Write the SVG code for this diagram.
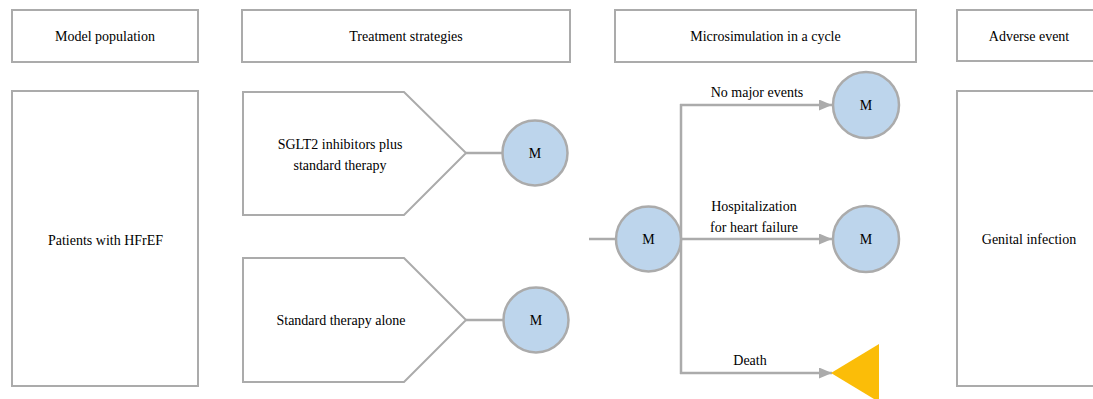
<svg xmlns="http://www.w3.org/2000/svg" width="1093" height="399" viewBox="0 0 1093 399" font-family="'Liberation Serif', 'Times New Roman', Times, serif">
  <defs>
    <style>
      .box { fill: #ffffff; stroke: #ababab; stroke-width: 2; }
      .state { fill: #bdd5ec; stroke: #ababab; stroke-width: 2.5; }
      .conn { fill: none; stroke: #ababab; stroke-width: 2.5; }
      text { font-family: 'Liberation Serif', 'Times New Roman', Times, serif; font-size: 14px; fill: #000000; text-anchor: middle; }
      .dead { fill: #fbbd08; }
    </style>
    <marker id="arr" markerUnits="userSpaceOnUse" markerWidth="14" markerHeight="12" refX="13" refY="5.5" orient="auto">
      <path d="M0,0 L13,5.5 L0,11 z" fill="#ababab"/>
    </marker>
  </defs>
  <rect width="1093" height="399" fill="#ffffff"/>

  <g id="connectors">
    <line class="conn" x1="466" y1="153" x2="503" y2="153"/>
    <line class="conn" x1="466" y1="320" x2="503" y2="320"/>
    <line class="conn" x1="589" y1="239" x2="616" y2="239"/>
    <line class="conn" x1="681" y1="104" x2="681" y2="374"/>
    <line class="conn" x1="680" y1="105" x2="832" y2="105" marker-end="url(#arr)"/>
    <line class="conn" x1="680" y1="239" x2="832" y2="239" marker-end="url(#arr)"/>
    <line class="conn" x1="680" y1="373" x2="832" y2="373" marker-end="url(#arr)"/>
  </g>

  <g id="hdr-model-population">
    <rect class="box" x="12" y="10" width="186" height="52"/>
    <text x="105" y="41">Model population</text>
  </g>
  <g id="hdr-treatment-strategies">
    <rect class="box" x="242" y="10" width="328" height="52"/>
    <text x="406" y="41">Treatment strategies</text>
  </g>
  <g id="hdr-microsimulation">
    <rect class="box" x="615" y="10" width="301" height="52"/>
    <text x="765.5" y="41">Microsimulation in a cycle</text>
  </g>
  <g id="hdr-adverse-event">
    <rect class="box" x="957" y="10" width="145" height="51"/>
    <text x="1029" y="41">Adverse event</text>
  </g>

  <g id="patients">
    <rect class="box" x="12" y="91" width="186" height="295"/>
    <text x="105.5" y="245">Patients with HFrEF</text>
  </g>

  <g id="strategy-sglt2">
    <polygon class="box" points="243,92 404,92 466,153 404,215 243,215"/>
    <text x="340" y="149">SGLT2 inhibitors plus</text>
    <text x="340" y="170">standard therapy</text>
  </g>
  <g id="markov-sglt2">
    <circle class="state" cx="535" cy="153" r="32.5"/>
    <text x="535" y="158">M</text>
  </g>

  <g id="strategy-standard">
    <polygon class="box" points="243,258 404,258 466,320 404,382 243,382"/>
    <text x="341" y="325">Standard therapy alone</text>
  </g>
  <g id="markov-standard">
    <circle class="state" cx="536" cy="320" r="32.5"/>
    <text x="536" y="325">M</text>
  </g>

  <g id="markov-cycle">
    <circle class="state" cx="648.5" cy="239" r="32.5"/>
    <text x="648.5" y="244">M</text>
  </g>

  <g id="state-no-major-events">
    <circle class="state" cx="866" cy="105" r="33"/>
    <text x="866" y="110">M</text>
    <text x="757" y="97">No major events</text>
  </g>
  <g id="state-hospitalization">
    <circle class="state" cx="866" cy="239" r="33"/>
    <text x="754" y="211">Hospitalization</text>
    <text x="754" y="232">for heart failure</text>
    <text x="866" y="244">M</text>
  </g>
  <g id="state-death">
    <polygon class="dead" points="831,373 879,344 879,402"/>
    <text x="750" y="365">Death</text>
  </g>

  <g id="adverse-genital-infection">
    <rect class="box" x="957" y="91" width="145" height="295"/>
    <text x="1029" y="244">Genital infection</text>
  </g>
</svg>
